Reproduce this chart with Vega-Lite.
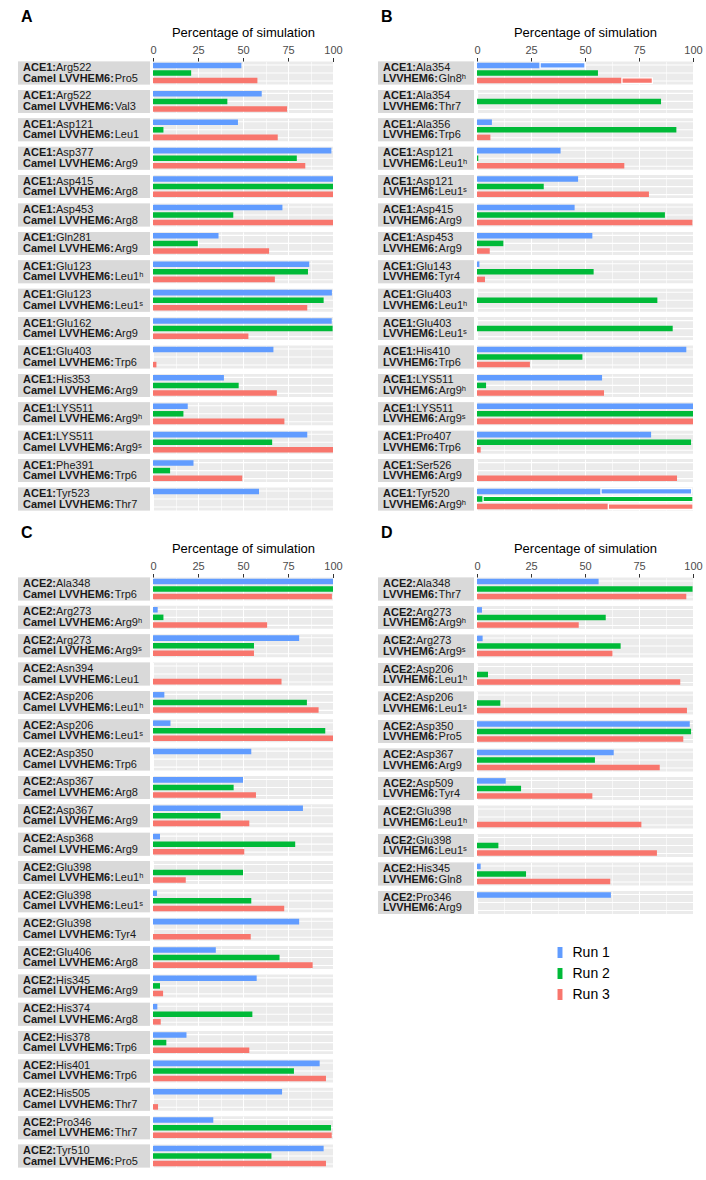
{
  "$schema": "https://vega.github.io/schema/vega-lite/v6.json",
  "padding": {"left": 18, "top": 8.5, "right": 0, "bottom": 4},
  "background": "white",
  "config": {
    "font": "Liberation Sans",
    "view": {"fill": "#EBEBEB", "stroke": null},
    "title": {"anchor": "start", "fontSize": 16, "fontWeight": "bold", "color": "black", "offset": 1, "dx": 3},
    "axis": {"titleFontWeight": "normal"}
  },
  "datasets": {
    "A": [
      {"k":1,"a":"Arg522","r":"Pro5","Run 1":49.1,"Run 2":21.2,"Run 3":58.0},
      {"k":2,"a":"Arg522","r":"Val3","Run 1":60.4,"Run 2":41.3,"Run 3":74.5},
      {"k":3,"a":"Asp121","r":"Leu1","Run 1":47.2,"Run 2":5.8,"Run 3":69.3},
      {"k":4,"a":"Asp377","r":"Arg9","Run 1":99.1,"Run 2":79.9,"Run 3":84.6},
      {"k":5,"a":"Asp415","r":"Arg8","Run 1":100,"Run 2":100,"Run 3":100},
      {"k":6,"a":"Asp453","r":"Arg8","Run 1":71.9,"Run 2":44.6,"Run 3":100},
      {"k":7,"a":"Gln281","r":"Arg9","Run 1":36.4,"Run 2":24.9,"Run 3":64.5},
      {"k":8,"a":"Glu123","r":"Leu1ʰ","Run 1":86.8,"Run 2":86.1,"Run 3":67.7},
      {"k":9,"a":"Glu123","r":"Leu1ˢ","Run 1":99.4,"Run 2":94.8,"Run 3":85.7},
      {"k":10,"a":"Glu162","r":"Arg9","Run 1":99.3,"Run 2":99.8,"Run 3":53.0},
      {"k":11,"a":"Glu403","r":"Trp6","Run 1":66.9,"Run 2":0,"Run 3":1.9},
      {"k":12,"a":"His353","r":"Arg9","Run 1":39.4,"Run 2":47.6,"Run 3":68.8},
      {"k":13,"a":"LYS511","r":"Arg9ʰ","Run 1":19.3,"Run 2":16.9,"Run 3":73.0},
      {"k":14,"a":"LYS511","r":"Arg9ˢ","Run 1":85.7,"Run 2":66.2,"Run 3":100},
      {"k":15,"a":"Phe391","r":"Trp6","Run 1":22.5,"Run 2":9.5,"Run 3":49.6},
      {"k":16,"a":"Tyr523","r":"Thr7","Run 1":58.9,"Run 2":0,"Run 3":0}
    ],
    "B": [
      {"k":1,"a":"Ala354","r":"Gln8ʰ","part":1,"Run 1":29.2,"Run 2":56.0,"Run 3":67.1},
      {"k":1,"a":"Ala354","r":"Gln8ʰ","part":2,"Run 1":20.8,"Run 2":0,"Run 3":14.1},
      {"k":2,"a":"Ala354","r":"Thr7","Run 1":0,"Run 2":85.2,"Run 3":0},
      {"k":3,"a":"Ala356","r":"Trp6","Run 1":6.9,"Run 2":92.3,"Run 3":6.2},
      {"k":4,"a":"Asp121","r":"Leu1ʰ","Run 1":38.7,"Run 2":0.6,"Run 3":68.2},
      {"k":5,"a":"Asp121","r":"Leu1ˢ","Run 1":46.8,"Run 2":30.9,"Run 3":79.6},
      {"k":6,"a":"Asp415","r":"Arg9","Run 1":45.2,"Run 2":87.0,"Run 3":99.7},
      {"k":7,"a":"Asp453","r":"Arg9","Run 1":53.4,"Run 2":12.2,"Run 3":5.9},
      {"k":8,"a":"Glu143","r":"Tyr4","Run 1":1.1,"Run 2":54.0,"Run 3":3.7},
      {"k":9,"a":"Glu403","r":"Leu1ʰ","Run 1":0,"Run 2":83.5,"Run 3":0},
      {"k":10,"a":"Glu403","r":"Leu1ˢ","Run 1":0,"Run 2":90.6,"Run 3":0},
      {"k":11,"a":"His410","r":"Trp6","Run 1":96.9,"Run 2":48.8,"Run 3":24.5},
      {"k":12,"a":"LYS511","r":"Arg9ʰ","Run 1":57.9,"Run 2":4.2,"Run 3":58.8},
      {"k":13,"a":"LYS511","r":"Arg9ˢ","Run 1":100,"Run 2":100,"Run 3":100},
      {"k":14,"a":"Pro407","r":"Trp6","Run 1":80.6,"Run 2":99.1,"Run 3":1.7},
      {"k":15,"a":"Ser526","r":"Arg9","Run 1":0,"Run 2":0,"Run 3":92.6},
      {"k":16,"a":"Tyr520","r":"Arg9ʰ","part":1,"Run 1":57.4,"Run 2":2.8,"Run 3":60.8},
      {"k":16,"a":"Tyr520","r":"Arg9ʰ","part":2,"Run 1":42.0,"Run 2":97.2,"Run 3":39.2}
    ],
    "C": [
      {"k":1,"a":"Ala348","r":"Trp6","Run 1":100,"Run 2":100,"Run 3":99.4},
      {"k":2,"a":"Arg273","r":"Arg9ʰ","Run 1":2.6,"Run 2":5.8,"Run 3":63.4},
      {"k":3,"a":"Arg273","r":"Arg9ˢ","Run 1":81.2,"Run 2":56.1,"Run 3":56.1},
      {"k":4,"a":"Asn394","r":"Leu1","Run 1":0,"Run 2":0,"Run 3":71.4},
      {"k":5,"a":"Asp206","r":"Leu1ʰ","Run 1":6.3,"Run 2":85.5,"Run 3":92.0},
      {"k":6,"a":"Asp206","r":"Leu1ˢ","Run 1":9.7,"Run 2":95.7,"Run 3":100},
      {"k":7,"a":"Asp350","r":"Trp6","Run 1":54.6,"Run 2":0,"Run 3":0},
      {"k":8,"a":"Asp367","r":"Arg8","Run 1":50.0,"Run 2":44.8,"Run 3":57.2},
      {"k":9,"a":"Asp367","r":"Arg9","Run 1":83.3,"Run 2":37.5,"Run 3":53.5},
      {"k":10,"a":"Asp368","r":"Arg9","Run 1":3.9,"Run 2":79.0,"Run 3":50.7},
      {"k":11,"a":"Glu398","r":"Leu1ʰ","Run 1":0,"Run 2":50.0,"Run 3":18.2},
      {"k":12,"a":"Glu398","r":"Leu1ˢ","Run 1":2.2,"Run 2":54.6,"Run 3":72.9},
      {"k":13,"a":"Glu398","r":"Tyr4","Run 1":81.2,"Run 2":0,"Run 3":54.3},
      {"k":14,"a":"Glu406","r":"Arg8","Run 1":34.9,"Run 2":70.3,"Run 3":88.7},
      {"k":15,"a":"His345","r":"Arg9","Run 1":57.6,"Run 2":3.9,"Run 3":5.6},
      {"k":16,"a":"His374","r":"Arg8","Run 1":2.4,"Run 2":55.2,"Run 3":4.3},
      {"k":17,"a":"His378","r":"Trp6","Run 1":18.6,"Run 2":7.4,"Run 3":53.5},
      {"k":18,"a":"His401","r":"Trp6","Run 1":92.6,"Run 2":78.3,"Run 3":96.1},
      {"k":19,"a":"His505","r":"Thr7","Run 1":71.7,"Run 2":0,"Run 3":2.8},
      {"k":20,"a":"Pro346","r":"Thr7","Run 1":33.5,"Run 2":98.9,"Run 3":99.3},
      {"k":21,"a":"Tyr510","r":"Pro5","Run 1":94.8,"Run 2":65.8,"Run 3":96.1}
    ],
    "D": [
      {"k":1,"a":"Ala348","r":"Thr7","Run 1":56.3,"Run 2":99.8,"Run 3":96.9},
      {"k":2,"a":"Arg273","r":"Arg9ʰ","Run 1":2.3,"Run 2":59.6,"Run 3":47.1},
      {"k":3,"a":"Arg273","r":"Arg9ˢ","Run 1":2.6,"Run 2":66.5,"Run 3":62.7},
      {"k":4,"a":"Asp206","r":"Leu1ʰ","Run 1":0,"Run 2":5.1,"Run 3":94.1},
      {"k":5,"a":"Asp206","r":"Leu1ˢ","Run 1":0,"Run 2":10.8,"Run 3":97.2},
      {"k":6,"a":"Asp350","r":"Pro5","Run 1":98.5,"Run 2":99.1,"Run 3":95.5},
      {"k":7,"a":"Asp367","r":"Arg9","Run 1":63.3,"Run 2":54.6,"Run 3":84.6},
      {"k":8,"a":"Asp509","r":"Tyr4","Run 1":13.3,"Run 2":20.4,"Run 3":53.4},
      {"k":9,"a":"Glu398","r":"Leu1ʰ","Run 1":0,"Run 2":0,"Run 3":76.1},
      {"k":10,"a":"Glu398","r":"Leu1ˢ","Run 1":0,"Run 2":9.9,"Run 3":83.3},
      {"k":11,"a":"His345","r":"Gln8","Run 1":1.7,"Run 2":22.7,"Run 3":61.7},
      {"k":12,"a":"Pro346","r":"Arg9","Run 1":62.0,"Run 2":0,"Run 3":0}
    ]
  },
  "spacing": 35,
  "hconcat": [
    {
      "spacing": 14,
      "vconcat": [
        {
          "title": {"text": "A"},
          "spacing": -1,
          "hconcat": [
            {
              "data": {"name": "A"},
              "transform": [{"filter": "datum.part != 2"}],
              "facet": {"row": {"field": "k", "type": "ordinal", "title": null, "header": {"labels": false}}},
              "spacing": 5.4,
              "spec": {
                "width": 132, "height": 23,
                "layer": [
                  {"mark": {"type": "rect", "color": "#D9D9D9"}, "encoding": {}},
                  {"mark": {"type": "text", "align": "left", "baseline": "alphabetic", "fontSize": 11, "fontWeight": "bold", "color": "#1A1A1A", "dx": 5, "dy": -2},
                   "encoding": {"x": {"datum": 0, "type": "quantitative", "scale": {"domain": [0, 100]}, "axis": {"orient": "top", "title": "x", "titleOpacity": 0, "titleFontSize": 13, "titlePadding": 5.5, "labels": false, "ticks": false, "domain": false, "grid": false, "minExtent": 17, "maxExtent": 17}}, "text": {"value": "ACE1:"}}},
                  {"mark": {"type": "text", "align": "left", "baseline": "alphabetic", "fontSize": 11, "fontWeight": "normal", "color": "#1A1A1A", "dx": 38, "dy": -2},
                   "encoding": {"x": {"datum": 0, "type": "quantitative", "scale": {"domain": [0, 100]}, "axis": {"orient": "top", "title": "x", "titleOpacity": 0, "titleFontSize": 13, "titlePadding": 5.5, "labels": false, "ticks": false, "domain": false, "grid": false, "minExtent": 17, "maxExtent": 17}}, "text": {"field": "a"}}},
                  {"mark": {"type": "text", "align": "left", "baseline": "alphabetic", "fontSize": 11, "fontWeight": "bold", "color": "#1A1A1A", "dx": 5, "dy": 8.5},
                   "encoding": {"x": {"datum": 0, "type": "quantitative", "scale": {"domain": [0, 100]}, "axis": {"orient": "top", "title": "x", "titleOpacity": 0, "titleFontSize": 13, "titlePadding": 5.5, "labels": false, "ticks": false, "domain": false, "grid": false, "minExtent": 17, "maxExtent": 17}}, "text": {"value": "Camel LVVHEM6:"}}},
                  {"mark": {"type": "text", "align": "left", "baseline": "alphabetic", "fontSize": 11, "fontWeight": "normal", "color": "#1A1A1A", "dx": 96.7, "dy": 8.5},
                   "encoding": {"x": {"datum": 0, "type": "quantitative", "scale": {"domain": [0, 100]}, "axis": {"orient": "top", "title": "x", "titleOpacity": 0, "titleFontSize": 13, "titlePadding": 5.5, "labels": false, "ticks": false, "domain": false, "grid": false, "minExtent": 17, "maxExtent": 17}}, "text": {"field": "r"}}}
                ]
              }
            },
            {
              "data": {"name": "A"},
              "transform": [{"fold": ["Run 1", "Run 2", "Run 3"], "as": ["run", "v"]}],
              "facet": {"row": {"field": "k", "type": "ordinal", "title": null, "header": {"labels": false}}},
              "spacing": 5.4,
              "spec": {
                "width": 180, "height": 23,
                "resolve": {"axis": {"x": "independent"}},
                "layer": [
                  {"mark": {"type": "point", "opacity": 0, "size": 0},
                   "encoding": {"x": {"field": "v", "type": "quantitative", "scale": {"domain": [0, 100], "nice": false}, "axis": {"orient": "bottom", "values": [12.5, 37.5, 62.5, 87.5], "grid": true, "gridColor": "white", "gridWidth": 0.6, "labels": false, "ticks": false, "domain": false, "title": null}}}},
                  {"mark": {"type": "bar", "stroke": "white"},
                   "encoding": {
                     "x": {"field": "v", "type": "quantitative", "stack": "zero", "scale": {"domain": [0, 100], "nice": false}, "axis": {"orient": "top", "values": [0, 25, 50, 75, 100], "title": "Percentage of simulation", "titleFontSize": 13, "titleColor": "black", "titlePadding": 5.5, "labelFontSize": 11, "labelColor": "#4D4D4D", "labelPadding": 2, "labelFlush": false, "labelOverlap": false, "tickColor": "#333333", "tickSize": 4, "tickWidth": 1, "domain": false, "grid": true, "gridColor": "white", "gridWidth": 1.1, "minExtent": 17, "maxExtent": 17}},
                     "y": {"field": "run", "type": "nominal", "scale": {"domain": ["Run 1", "Run 2", "Run 3"], "paddingInner": 0.27, "paddingOuter": 0.15}, "axis": {"title": null, "labels": false, "ticks": false, "domain": false, "grid": true, "gridColor": "white", "gridWidth": 1.1, "bandPosition": 0.5}},
                     "color": {"field": "run", "type": "nominal", "scale": {"domain": ["Run 1", "Run 2", "Run 3"], "range": ["#619CFF", "#00BA38", "#F8766D"]}, "legend": {"title": null, "orient": "none", "legendX": 535, "legendY": 884, "symbolType": "M-0.45,-1H0.45V1H-0.45Z", "symbolSize": 121, "symbolStrokeWidth": 0, "labelFontSize": 14, "labelColor": "black", "rowPadding": 7, "labelOffset": 5.5, "padding": 0}},
                     "order": {"field": "part"},
                     "strokeWidth": {"condition": {"test": "datum.part == 2 && datum.v > 0", "value": 1.3}, "value": 0}
                   }}
                ]
              }
            }
          ]
        },
        {
          "title": {"text": "C"},
          "spacing": -1,
          "hconcat": [
            {
              "data": {"name": "C"},
              "transform": [{"filter": "datum.part != 2"}],
              "facet": {"row": {"field": "k", "type": "ordinal", "title": null, "header": {"labels": false}}},
              "spacing": 5.35,
              "spec": {
                "width": 132, "height": 23,
                "layer": [
                  {"mark": {"type": "rect", "color": "#D9D9D9"}, "encoding": {}},
                  {"mark": {"type": "text", "align": "left", "baseline": "alphabetic", "fontSize": 11, "fontWeight": "bold", "color": "#1A1A1A", "dx": 5, "dy": -2},
                   "encoding": {"x": {"datum": 0, "type": "quantitative", "scale": {"domain": [0, 100]}, "axis": {"orient": "top", "title": "x", "titleOpacity": 0, "titleFontSize": 13, "titlePadding": 5.5, "labels": false, "ticks": false, "domain": false, "grid": false, "minExtent": 17, "maxExtent": 17}}, "text": {"value": "ACE2:"}}},
                  {"mark": {"type": "text", "align": "left", "baseline": "alphabetic", "fontSize": 11, "fontWeight": "normal", "color": "#1A1A1A", "dx": 38, "dy": -2},
                   "encoding": {"x": {"datum": 0, "type": "quantitative", "scale": {"domain": [0, 100]}, "axis": {"orient": "top", "title": "x", "titleOpacity": 0, "titleFontSize": 13, "titlePadding": 5.5, "labels": false, "ticks": false, "domain": false, "grid": false, "minExtent": 17, "maxExtent": 17}}, "text": {"field": "a"}}},
                  {"mark": {"type": "text", "align": "left", "baseline": "alphabetic", "fontSize": 11, "fontWeight": "bold", "color": "#1A1A1A", "dx": 5, "dy": 8.5},
                   "encoding": {"x": {"datum": 0, "type": "quantitative", "scale": {"domain": [0, 100]}, "axis": {"orient": "top", "title": "x", "titleOpacity": 0, "titleFontSize": 13, "titlePadding": 5.5, "labels": false, "ticks": false, "domain": false, "grid": false, "minExtent": 17, "maxExtent": 17}}, "text": {"value": "Camel LVVHEM6:"}}},
                  {"mark": {"type": "text", "align": "left", "baseline": "alphabetic", "fontSize": 11, "fontWeight": "normal", "color": "#1A1A1A", "dx": 96.7, "dy": 8.5},
                   "encoding": {"x": {"datum": 0, "type": "quantitative", "scale": {"domain": [0, 100]}, "axis": {"orient": "top", "title": "x", "titleOpacity": 0, "titleFontSize": 13, "titlePadding": 5.5, "labels": false, "ticks": false, "domain": false, "grid": false, "minExtent": 17, "maxExtent": 17}}, "text": {"field": "r"}}}
                ]
              }
            },
            {
              "data": {"name": "C"},
              "transform": [{"fold": ["Run 1", "Run 2", "Run 3"], "as": ["run", "v"]}],
              "facet": {"row": {"field": "k", "type": "ordinal", "title": null, "header": {"labels": false}}},
              "spacing": 5.35,
              "spec": {
                "width": 180, "height": 23,
                "resolve": {"axis": {"x": "independent"}},
                "layer": [
                  {"mark": {"type": "point", "opacity": 0, "size": 0},
                   "encoding": {"x": {"field": "v", "type": "quantitative", "scale": {"domain": [0, 100], "nice": false}, "axis": {"orient": "bottom", "values": [12.5, 37.5, 62.5, 87.5], "grid": true, "gridColor": "white", "gridWidth": 0.6, "labels": false, "ticks": false, "domain": false, "title": null}}}},
                  {"mark": {"type": "bar", "stroke": "white"},
                   "encoding": {
                     "x": {"field": "v", "type": "quantitative", "stack": "zero", "scale": {"domain": [0, 100], "nice": false}, "axis": {"orient": "top", "values": [0, 25, 50, 75, 100], "title": "Percentage of simulation", "titleFontSize": 13, "titleColor": "black", "titlePadding": 5.5, "labelFontSize": 11, "labelColor": "#4D4D4D", "labelPadding": 2, "labelFlush": false, "labelOverlap": false, "tickColor": "#333333", "tickSize": 4, "tickWidth": 1, "domain": false, "grid": true, "gridColor": "white", "gridWidth": 1.1, "minExtent": 17, "maxExtent": 17}},
                     "y": {"field": "run", "type": "nominal", "scale": {"domain": ["Run 1", "Run 2", "Run 3"], "paddingInner": 0.27, "paddingOuter": 0.15}, "axis": {"title": null, "labels": false, "ticks": false, "domain": false, "grid": true, "gridColor": "white", "gridWidth": 1.1, "bandPosition": 0.5}},
                     "color": {"field": "run", "type": "nominal", "scale": {"domain": ["Run 1", "Run 2", "Run 3"], "range": ["#619CFF", "#00BA38", "#F8766D"]}, "legend": {"title": null, "orient": "none", "legendX": 535, "legendY": 884, "symbolType": "M-0.45,-1H0.45V1H-0.45Z", "symbolSize": 121, "symbolStrokeWidth": 0, "labelFontSize": 14, "labelColor": "black", "rowPadding": 7, "labelOffset": 5.5, "padding": 0}},
                     "order": {"field": "part"},
                     "strokeWidth": {"condition": {"test": "datum.part == 2 && datum.v > 0", "value": 1.3}, "value": 0}
                   }}
                ]
              }
            }
          ]
        }
      ]
    },
    {
      "spacing": 14,
      "vconcat": [
        {
          "title": {"text": "B"},
          "spacing": -1,
          "hconcat": [
            {
              "data": {"name": "B"},
              "transform": [{"filter": "datum.part != 2"}],
              "facet": {"row": {"field": "k", "type": "ordinal", "title": null, "header": {"labels": false}}},
              "spacing": 5.4,
              "spec": {
                "width": 96, "height": 23,
                "layer": [
                  {"mark": {"type": "rect", "color": "#D9D9D9"}, "encoding": {}},
                  {"mark": {"type": "text", "align": "left", "baseline": "alphabetic", "fontSize": 11, "fontWeight": "bold", "color": "#1A1A1A", "dx": 5, "dy": -2},
                   "encoding": {"x": {"datum": 0, "type": "quantitative", "scale": {"domain": [0, 100]}, "axis": {"orient": "top", "title": "x", "titleOpacity": 0, "titleFontSize": 13, "titlePadding": 5.5, "labels": false, "ticks": false, "domain": false, "grid": false, "minExtent": 17, "maxExtent": 17}}, "text": {"value": "ACE1:"}}},
                  {"mark": {"type": "text", "align": "left", "baseline": "alphabetic", "fontSize": 11, "fontWeight": "normal", "color": "#1A1A1A", "dx": 38, "dy": -2},
                   "encoding": {"x": {"datum": 0, "type": "quantitative", "scale": {"domain": [0, 100]}, "axis": {"orient": "top", "title": "x", "titleOpacity": 0, "titleFontSize": 13, "titlePadding": 5.5, "labels": false, "ticks": false, "domain": false, "grid": false, "minExtent": 17, "maxExtent": 17}}, "text": {"field": "a"}}},
                  {"mark": {"type": "text", "align": "left", "baseline": "alphabetic", "fontSize": 11, "fontWeight": "bold", "color": "#1A1A1A", "dx": 5, "dy": 8.5},
                   "encoding": {"x": {"datum": 0, "type": "quantitative", "scale": {"domain": [0, 100]}, "axis": {"orient": "top", "title": "x", "titleOpacity": 0, "titleFontSize": 13, "titlePadding": 5.5, "labels": false, "ticks": false, "domain": false, "grid": false, "minExtent": 17, "maxExtent": 17}}, "text": {"value": "LVVHEM6:"}}},
                  {"mark": {"type": "text", "align": "left", "baseline": "alphabetic", "fontSize": 11, "fontWeight": "normal", "color": "#1A1A1A", "dx": 60.6, "dy": 8.5},
                   "encoding": {"x": {"datum": 0, "type": "quantitative", "scale": {"domain": [0, 100]}, "axis": {"orient": "top", "title": "x", "titleOpacity": 0, "titleFontSize": 13, "titlePadding": 5.5, "labels": false, "ticks": false, "domain": false, "grid": false, "minExtent": 17, "maxExtent": 17}}, "text": {"field": "r"}}}
                ]
              }
            },
            {
              "data": {"name": "B"},
              "transform": [{"fold": ["Run 1", "Run 2", "Run 3"], "as": ["run", "v"]}],
              "facet": {"row": {"field": "k", "type": "ordinal", "title": null, "header": {"labels": false}}},
              "spacing": 5.4,
              "spec": {
                "width": 216, "height": 23,
                "resolve": {"axis": {"x": "independent"}},
                "layer": [
                  {"mark": {"type": "point", "opacity": 0, "size": 0},
                   "encoding": {"x": {"field": "v", "type": "quantitative", "scale": {"domain": [0, 100], "nice": false}, "axis": {"orient": "bottom", "values": [12.5, 37.5, 62.5, 87.5], "grid": true, "gridColor": "white", "gridWidth": 0.6, "labels": false, "ticks": false, "domain": false, "title": null}}}},
                  {"mark": {"type": "bar", "stroke": "white"},
                   "encoding": {
                     "x": {"field": "v", "type": "quantitative", "stack": "zero", "scale": {"domain": [0, 100], "nice": false}, "axis": {"orient": "top", "values": [0, 25, 50, 75, 100], "title": "Percentage of simulation", "titleFontSize": 13, "titleColor": "black", "titlePadding": 5.5, "labelFontSize": 11, "labelColor": "#4D4D4D", "labelPadding": 2, "labelFlush": false, "labelOverlap": false, "tickColor": "#333333", "tickSize": 4, "tickWidth": 1, "domain": false, "grid": true, "gridColor": "white", "gridWidth": 1.1, "minExtent": 17, "maxExtent": 17}},
                     "y": {"field": "run", "type": "nominal", "scale": {"domain": ["Run 1", "Run 2", "Run 3"], "paddingInner": 0.27, "paddingOuter": 0.15}, "axis": {"title": null, "labels": false, "ticks": false, "domain": false, "grid": true, "gridColor": "white", "gridWidth": 1.1, "bandPosition": 0.5}},
                     "color": {"field": "run", "type": "nominal", "scale": {"domain": ["Run 1", "Run 2", "Run 3"], "range": ["#619CFF", "#00BA38", "#F8766D"]}, "legend": {"title": null, "orient": "none", "legendX": 535, "legendY": 884, "symbolType": "M-0.45,-1H0.45V1H-0.45Z", "symbolSize": 121, "symbolStrokeWidth": 0, "labelFontSize": 14, "labelColor": "black", "rowPadding": 7, "labelOffset": 5.5, "padding": 0}},
                     "order": {"field": "part"},
                     "strokeWidth": {"condition": {"test": "datum.part == 2 && datum.v > 0", "value": 1.3}, "value": 0}
                   }}
                ]
              }
            }
          ]
        },
        {
          "title": {"text": "D"},
          "spacing": -1,
          "hconcat": [
            {
              "data": {"name": "D"},
              "transform": [{"filter": "datum.part != 2"}],
              "facet": {"row": {"field": "k", "type": "ordinal", "title": null, "header": {"labels": false}}},
              "spacing": 5.5,
              "spec": {
                "width": 96, "height": 23,
                "layer": [
                  {"mark": {"type": "rect", "color": "#D9D9D9"}, "encoding": {}},
                  {"mark": {"type": "text", "align": "left", "baseline": "alphabetic", "fontSize": 11, "fontWeight": "bold", "color": "#1A1A1A", "dx": 5, "dy": -2},
                   "encoding": {"x": {"datum": 0, "type": "quantitative", "scale": {"domain": [0, 100]}, "axis": {"orient": "top", "title": "x", "titleOpacity": 0, "titleFontSize": 13, "titlePadding": 5.5, "labels": false, "ticks": false, "domain": false, "grid": false, "minExtent": 17, "maxExtent": 17}}, "text": {"value": "ACE2:"}}},
                  {"mark": {"type": "text", "align": "left", "baseline": "alphabetic", "fontSize": 11, "fontWeight": "normal", "color": "#1A1A1A", "dx": 38, "dy": -2},
                   "encoding": {"x": {"datum": 0, "type": "quantitative", "scale": {"domain": [0, 100]}, "axis": {"orient": "top", "title": "x", "titleOpacity": 0, "titleFontSize": 13, "titlePadding": 5.5, "labels": false, "ticks": false, "domain": false, "grid": false, "minExtent": 17, "maxExtent": 17}}, "text": {"field": "a"}}},
                  {"mark": {"type": "text", "align": "left", "baseline": "alphabetic", "fontSize": 11, "fontWeight": "bold", "color": "#1A1A1A", "dx": 5, "dy": 8.5},
                   "encoding": {"x": {"datum": 0, "type": "quantitative", "scale": {"domain": [0, 100]}, "axis": {"orient": "top", "title": "x", "titleOpacity": 0, "titleFontSize": 13, "titlePadding": 5.5, "labels": false, "ticks": false, "domain": false, "grid": false, "minExtent": 17, "maxExtent": 17}}, "text": {"value": "LVVHEM6:"}}},
                  {"mark": {"type": "text", "align": "left", "baseline": "alphabetic", "fontSize": 11, "fontWeight": "normal", "color": "#1A1A1A", "dx": 60.6, "dy": 8.5},
                   "encoding": {"x": {"datum": 0, "type": "quantitative", "scale": {"domain": [0, 100]}, "axis": {"orient": "top", "title": "x", "titleOpacity": 0, "titleFontSize": 13, "titlePadding": 5.5, "labels": false, "ticks": false, "domain": false, "grid": false, "minExtent": 17, "maxExtent": 17}}, "text": {"field": "r"}}}
                ]
              }
            },
            {
              "data": {"name": "D"},
              "transform": [{"fold": ["Run 1", "Run 2", "Run 3"], "as": ["run", "v"]}],
              "facet": {"row": {"field": "k", "type": "ordinal", "title": null, "header": {"labels": false}}},
              "spacing": 5.5,
              "spec": {
                "width": 216, "height": 23,
                "resolve": {"axis": {"x": "independent"}},
                "layer": [
                  {"mark": {"type": "point", "opacity": 0, "size": 0},
                   "encoding": {"x": {"field": "v", "type": "quantitative", "scale": {"domain": [0, 100], "nice": false}, "axis": {"orient": "bottom", "values": [12.5, 37.5, 62.5, 87.5], "grid": true, "gridColor": "white", "gridWidth": 0.6, "labels": false, "ticks": false, "domain": false, "title": null}}}},
                  {"mark": {"type": "bar", "stroke": "white"},
                   "encoding": {
                     "x": {"field": "v", "type": "quantitative", "stack": "zero", "scale": {"domain": [0, 100], "nice": false}, "axis": {"orient": "top", "values": [0, 25, 50, 75, 100], "title": "Percentage of simulation", "titleFontSize": 13, "titleColor": "black", "titlePadding": 5.5, "labelFontSize": 11, "labelColor": "#4D4D4D", "labelPadding": 2, "labelFlush": false, "labelOverlap": false, "tickColor": "#333333", "tickSize": 4, "tickWidth": 1, "domain": false, "grid": true, "gridColor": "white", "gridWidth": 1.1, "minExtent": 17, "maxExtent": 17}},
                     "y": {"field": "run", "type": "nominal", "scale": {"domain": ["Run 1", "Run 2", "Run 3"], "paddingInner": 0.27, "paddingOuter": 0.15}, "axis": {"title": null, "labels": false, "ticks": false, "domain": false, "grid": true, "gridColor": "white", "gridWidth": 1.1, "bandPosition": 0.5}},
                     "color": {"field": "run", "type": "nominal", "scale": {"domain": ["Run 1", "Run 2", "Run 3"], "range": ["#619CFF", "#00BA38", "#F8766D"]}, "legend": {"title": null, "orient": "none", "legendX": 535, "legendY": 884, "symbolType": "M-0.45,-1H0.45V1H-0.45Z", "symbolSize": 121, "symbolStrokeWidth": 0, "labelFontSize": 14, "labelColor": "black", "rowPadding": 7, "labelOffset": 5.5, "padding": 0}},
                     "order": {"field": "part"},
                     "strokeWidth": {"condition": {"test": "datum.part == 2 && datum.v > 0", "value": 1.3}, "value": 0}
                   }}
                ]
              }
            }
          ]
        }
      ]
    }
  ]
}
